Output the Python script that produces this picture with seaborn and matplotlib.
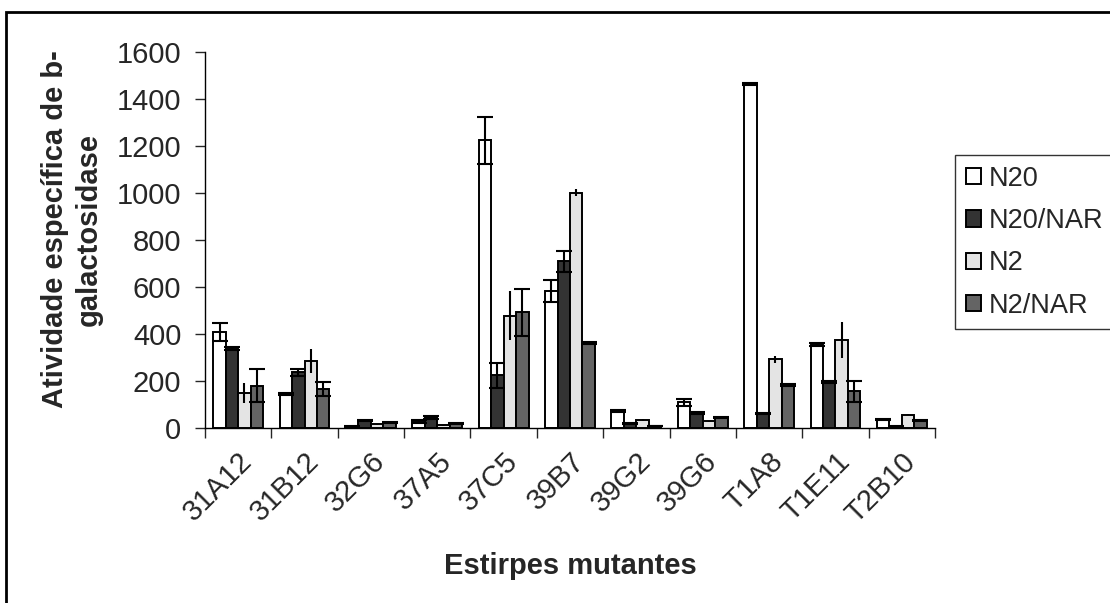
import numpy as np
import pandas as pd
import matplotlib
matplotlib.use('Agg')
import matplotlib.pyplot as plt
import seaborn as sns
from matplotlib.patches import Rectangle

# strains and series
strains = ['31A12', '31B12', '32G6', '37A5', '37C5', '39B7', '39G2', '39G6', 'T1A8', 'T1E11', 'T2B10']
series = ['N20', 'N20/NAR', 'N2', 'N2/NAR']

n20 = [410, 145, 8, 28, 1225, 583, 72, 110, 1462, 355, 35]
n20_err = [38, 5, 2, 8, 100, 45, 3, 15, 4, 5, 3]
n20nar = [338, 238, 32, 45, 224, 709, 20, 62, 62, 195, 6]
n20nar_err = [8, 15, 3, 5, 52, 45, 2, 4, 2, 3, 1]
n2 = [150, 285, 15, 12, 478, 1001, 35, 28, 292, 375, 57]
n2_err = [42, 52, 2, 2, 105, 14, 5, 2, 16, 75, 2]
n2nar = [179, 166, 25, 18, 493, 362, 8, 45, 182, 157, 33]
n2nar_err = [70, 30, 2, 2, 100, 5, 1, 2, 4, 45, 3]

values = [n20, n20nar, n2, n2nar]
errors = [n20_err, n20nar_err, n2_err, n2nar_err]
colors = ['#ffffff', '#333333', '#e4e4e4', '#646464']

df = pd.DataFrame({
    'strain': np.repeat([strains], 4, axis=0).ravel(),
    'serie': np.repeat(series, len(strains)),
    'value': np.concatenate(values),
})

sns.set_style('white')
plt.rcParams['font.family'] = ['Liberation Sans', 'DejaVu Sans']

fig = plt.figure(figsize=(11.1, 6.03), dpi=100)
ax = fig.add_axes([205 / 1110, 175 / 603, 730 / 1110, 376 / 603])

sns.barplot(data=df, x='strain', y='value', hue='serie', hue_order=series,
            order=strains, palette=colors, width=0.75, errorbar=None,
            edgecolor='black', linewidth=1.4, ax=ax)

# error bars on top of each bar
for cont, err, s in zip(ax.containers, errors, series):
    xs = [p.get_x() + p.get_width() / 2 for p in cont.patches]
    ys = [p.get_height() for p in cont.patches]
    cap = 0 if s == 'N2' else 6
    ax.errorbar(xs, ys, yerr=err, fmt='none', ecolor='black', elinewidth=1.5,
                capsize=cap, capthick=1.5, zorder=5)

ax.set_ylim(0, 1600)
ax.set_yticks(range(0, 1601, 200))
ax.set_xlim(-0.5, len(strains) - 0.5)
ax.set_xticks(np.arange(len(strains)))
ax.set_xticklabels(strains, rotation=45, ha='right', rotation_mode='anchor', fontsize=21)
ax.set_xticks(np.arange(len(strains) + 1) - 0.5, minor=True)
ax.tick_params(axis='x', which='major', length=0, pad=14)
ax.tick_params(axis='x', which='minor', length=7, width=1, direction='out', bottom=True)
ax.tick_params(axis='y', length=7, width=1, direction='out', left=True, labelsize=21, pad=10)
ax.set_xlabel('')
ax.set_ylabel('')
for side in ['top', 'right']:
    ax.spines[side].set_visible(False)
for side in ['left', 'bottom']:
    ax.spines[side].set_color('black')
    ax.spines[side].set_linewidth(1)

fig.text(72 / 1110, 0.62, 'Atividade específica de b-\ngalactosidase', rotation=90,
         ha='center', va='center', fontsize=21, fontweight='bold', multialignment='center',
         linespacing=1.25)
fig.text(570 / 1110, 1 - 566 / 603, 'Estirpes mutantes', ha='center', va='center',
         fontsize=21, fontweight='bold')

leg = ax.legend(loc='upper left', bbox_to_anchor=(955 / 1110, 1 - 155 / 603),
                bbox_transform=fig.transFigure, frameon=True, fancybox=False,
                fontsize=19.5, handlelength=0.55, handleheight=0.55, handletextpad=0.3,
                labelspacing=0.6, borderpad=0.4, borderaxespad=0)
leg.get_frame().set_edgecolor('black')
leg.get_frame().set_linewidth(1)

# outer frame (only left and top visible)
fig.patches.append(Rectangle((6 / 1110, -0.1), 1.2, 1.1 - 12 / 603, transform=fig.transFigure,
                             fill=False, edgecolor='black', linewidth=2))

fig.savefig('out.png', dpi=100)
